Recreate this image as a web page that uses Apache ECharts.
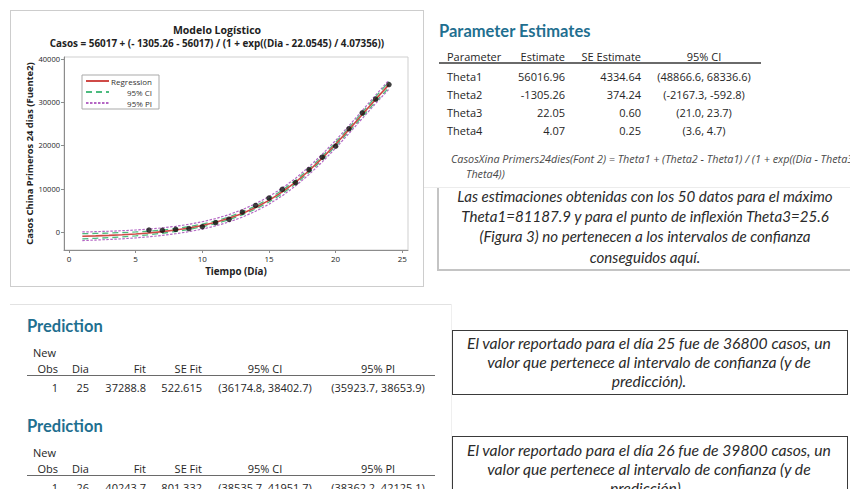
<!DOCTYPE html>
<html>
<head>
<meta charset="utf-8">
<script src="https://cdn.jsdelivr.net/npm/echarts@6/dist/echarts.min.js"></script>
<style>
  html, body { margin: 0; padding: 0; width: 850px; height: 489px; overflow: hidden; background: #fff; }
  #chart { position: absolute; left: 0; top: 0; width: 850px; height: 489px; }
  .t { position: absolute; white-space: nowrap; font-family: "Open Sans", sans-serif; line-height: 1; color: #2a2a2a; }
  .tbl { font-size: 11px; color: #262626; }
  .head { font-family: "Lato", sans-serif; font-size: 16.5px; font-weight: bold; color: #1f6f90; }
  .formula { font-size: 10.8px; font-style: italic; color: #4a4a4a; }
  .note { font-family: "Lato", sans-serif; font-style: italic; font-weight: 400; color: #2a2a2a; }
  .n1 { font-size: 15.1px; }
  .n2 { font-size: 15.7px; }
  .rule { position: absolute; }
</style>
</head>
<body>
<div id="chart"></div>
<div id="panels"></div>
<script>
// ---- Logistic fit: days, fitted cases and bands ----
const days = [1, 2, 3, 4, 5, 6, 7, 8, 9, 10, 11, 12, 13, 14, 15, 16, 17, 18, 19, 20, 21, 22, 23, 24];
const fitCases = [-981, -891, -777, -632, -447, -213, 84, 458, 929, 1521, 2258, 3172, 4296, 5667, 7315, 9269, 11553, 14162, 17088, 20280, 23668, 27161, 30666, 34073];
const ciLower = [-1578, -1456, -1310, -1133, -905, -629, -289, 117, 609, 1212, 1949, 2852, 3955, 5305, 6931, 8864, 11137, 13746, 16672, 19864, 23231, 26682, 30101, 33370];
const ciUpper = [-384, -326, -244, -131, 11, 203, 457, 799, 1249, 1830, 2567, 3492, 4637, 6029, 7699, 9674, 11969, 14578, 17504, 20696, 24105, 27640, 31231, 34776];
const piLower = [-1970, -1861, -1729, -1566, -1359, -1104, -788, -401, 78, 674, 1411, 2321, 3437, 4799, 6438, 8383, 10662, 13271, 16197, 19389, 22767, 26238, 29696, 33016];
const piUpper = [8, 79, 175, 302, 465, 678, 956, 1317, 1780, 2368, 3105, 4023, 5155, 6535, 8192, 10155, 12444, 15053, 17979, 21171, 24569, 28084, 31636, 35130];

// ---- Observed cumulative cases ----
const obsDays = [6, 7, 8, 9, 10, 11, 12, 13, 14, 15, 16, 17, 18, 19, 20, 21, 22, 23, 24];
const obsCases = [460, 400, 620, 800, 1230, 2150, 2950, 4600, 6150, 7850, 9850, 11400, 14400, 17300, 19850, 23850, 27540, 30700, 34080];

// ---- Axis ticks ----
const xTicks = [0, 5, 10, 15, 20, 25];
const yTicks = [0, 10000, 20000, 30000, 40000];

// ---- Parameter estimates table ----
const paramHeader = ['Parameter', 'Estimate', 'SE Estimate', '95% CI'];
const paramNames = ['Theta1', 'Theta2', 'Theta3', 'Theta4'];
const paramEstimates = ['56016.96', '-1305.26', '22.05', '4.07'];
const paramSE = ['4334.64', '374.24', '0.60', '0.25'];
const paramCI = ['(48866.6, 68336.6)', '(-2167.3, -592.8)', '(21.0, 23.7)', '(3.6, 4.7)'];
const modelText = ['CasosXina Primers24dies(Font 2) = Theta1 + (Theta2 - Theta1) / (1 + exp((Dia - Theta3) /', 'Theta4))'];

// ---- Prediction tables ----
const predHeader = ['Obs', 'Dia', 'Fit', 'SE Fit', '95% CI', '95% PI'];
const predObs = ['1', '1'];
const predDia = ['25', '26'];
const predFit = ['37288.8', '40243.7'];
const predSE = ['522.615', '801.332'];
const predCI = ['(36174.8, 38402.7)', '(38535.7, 41951.7)'];
const predPI = ['(35923.7, 38653.9)', '(38362.2, 42125.1)'];

// ---- Notes ----
const noteMain = ['Las estimaciones obtenidas con los 50 datos para el máximo', 'Theta1=81187.9 y para el punto de inflexión Theta3=25.6', '(Figura 3) no pertenecen a los intervalos de confianza', 'conseguidos aquí.'];
const note25 = ['El valor reportado para el día 25 fue de 36800 casos, un', 'valor que pertenece al intervalo de confianza (y de', 'predicción).'];
const note26 = ['El valor reportado para el día 26 fue de 39800 casos, un', 'valor que pertenece al intervalo de confianza (y de', 'predicción)..'];

const pairs = (xs, ys) => xs.map((x, i) => [x, ys[i]]);

const chart = echarts.init(document.getElementById('chart'), null, { renderer: 'svg' });
const baseFont = '"Open Sans", sans-serif';
const red = '#cf4a47', green = '#4cbb7f', purple = '#b466c4';

chart.setOption({
  animation: false,
  textStyle: { fontFamily: baseFont },
  title: [
    { text: 'Modelo Logístico', left: 217, top: 24, padding: 0, textAlign: 'center',
      textStyle: { fontSize: 10.5, fontWeight: 'bold', color: '#222', fontFamily: baseFont } },
    { text: 'Casos = 56017 + (- 1305.26 - 56017) / (1 + exp((Dia - 22.0545) / 4.07356))', left: 217, top: 37.5, padding: 0, textAlign: 'center',
      textStyle: { fontSize: 9.9, fontWeight: 'bold', color: '#222', fontFamily: baseFont } }
  ],
  legend: {
    data: ['Regression', '95% CI', '95% PI'],
    left: 82, top: 75, orient: 'vertical',
    itemWidth: 23, itemHeight: 8, itemGap: 3,
    backgroundColor: '#fff', borderColor: '#a9a9a9', borderWidth: 1, borderRadius: 0,
    padding: [2, 7, 2, 3],
    itemStyle: { opacity: 0 },
    formatter: '{a|{name}}',
    textStyle: { fontSize: 8, color: '#333', fontFamily: baseFont,
      rich: { a: { width: 38, align: 'right', fontSize: 8, color: '#333', fontFamily: baseFont } } }
  },
  grid: { left: 64, top: 57, width: 344, height: 193, show: true, borderColor: '#cfcfcf', borderWidth: 1 },
  xAxis: {
    type: 'value', min: -0.375, max: 25.43,
    axisLine: { show: true, onZero: false, lineStyle: { color: '#8c8c8c', width: 1 } },
    axisTick: { show: true, customValues: xTicks, length: 3, lineStyle: { color: '#8c8c8c' } },
    axisLabel: { customValues: xTicks, fontSize: 8, color: '#222', margin: 4 },
    splitLine: { show: false },
    name: 'Tiempo (Día)', nameLocation: 'middle', nameGap: 16,
    nameTextStyle: { fontSize: 9.8, fontWeight: 'bold', color: '#222' }
  },
  yAxis: {
    type: 'value', min: -4160, max: 40460,
    axisLine: { show: true, onZero: false, lineStyle: { color: '#8c8c8c', width: 1 } },
    axisTick: { show: true, customValues: yTicks, length: 3, lineStyle: { color: '#8c8c8c' } },
    axisLabel: { customValues: yTicks, fontSize: 7.5, color: '#1e1e1e', margin: 4, formatter: v => String(v) },
    splitLine: { show: false },
    name: 'Casos China Primeros 24 dias (Fuente2)', nameLocation: 'middle', nameGap: 30,
    nameTextStyle: { fontSize: 9.4, fontWeight: 'bold', color: '#222' }
  },
  series: [
    { name: '95% PI', type: 'line', symbol: 'none', data: pairs(days, piUpper),
      lineStyle: { color: purple, width: 1.2, type: [2.5, 1.5] }, itemStyle: { color: purple } },
    { name: '95% PI', type: 'line', symbol: 'none', data: pairs(days, piLower),
      lineStyle: { color: purple, width: 1.2, type: [2.5, 1.5] }, itemStyle: { color: purple } },
    { name: '95% CI', type: 'line', symbol: 'none', data: pairs(days, ciUpper),
      lineStyle: { color: green, width: 1.3, type: [6, 4] }, itemStyle: { color: green } },
    { name: '95% CI', type: 'line', symbol: 'none', data: pairs(days, ciLower),
      lineStyle: { color: green, width: 1.3, type: [6, 4] }, itemStyle: { color: green } },
    { name: 'Regression', type: 'line', symbol: 'none', data: pairs(days, fitCases),
      lineStyle: { color: red, width: 1.6 }, itemStyle: { color: red } },
    { name: 'Observed', type: 'scatter', symbol: 'circle', symbolSize: 5.5, data: pairs(obsDays, obsCases),
      itemStyle: { color: '#111' }, z: 5 }
  ]
});

// ---- Side panels: tables and notes ----
const panels = document.getElementById('panels');
function put(text, x, y, align, cls) {
  const el = document.createElement('div');
  el.className = 't ' + cls;
  el.textContent = text;
  el.style.left = x + 'px';
  el.style.top = y + 'px';
  const tx = align === 'right' ? '-100%' : align === 'center' ? '-50%' : '0';
  el.style.transform = 'translate(' + tx + ', -50%)';
  panels.appendChild(el);
  return el;
}
function rule(x, y, w, h, color) {
  const el = document.createElement('div');
  el.className = 'rule';
  Object.assign(el.style, { left: x + 'px', top: y + 'px', width: w + 'px', height: h + 'px', background: color });
  panels.appendChild(el);
}
function box(x, y, w, h, border) {
  const el = document.createElement('div');
  el.className = 'rule';
  Object.assign(el.style, { left: x + 'px', top: y + 'px', width: w + 'px', height: h + 'px', border: border, boxSizing: 'border-box' });
  panels.appendChild(el);
}

// chart frame
box(10, 10, 414, 277, '1px solid #cdcdcd');

// parameter estimates
put('Parameter Estimates', 439, 31, 'left', 'head');
put(paramHeader[0], 447, 56, 'left', 'tbl');
put(paramHeader[1], 565, 56, 'right', 'tbl');
put(paramHeader[2], 641, 56, 'right', 'tbl');
put(paramHeader[3], 704, 56, 'center', 'tbl');
rule(439, 62, 322, 1.5, '#6a6a6a');
paramNames.forEach((n, i) => {
  const y = 75.7 + i * 18.1;
  put(n, 447, y, 'left', 'tbl');
  put(paramEstimates[i], 565, y, 'right', 'tbl');
  put(paramSE[i], 641, y, 'right', 'tbl');
  put(paramCI[i], 704, y, 'center', 'tbl');
});
put(modelText[0], 451, 159, 'left', 'formula');
put(modelText[1], 466, 174, 'left', 'formula');
rule(424, 187, 426, 1, '#ececec');

// note on the 50-point fit
rule(437, 188, 1.5, 82, '#c4c4c4');
rule(437, 269, 413, 1.5, '#c4c4c4');
noteMain.forEach((s, i) => put(s, 645, 197 + i * 20.2, 'center', 'note n1'));

// prediction tables
rule(10, 304, 441, 1, '#e2e2e2');
rule(451, 304, 1, 185, '#efefef');
function predictionTable(top, k) {
  put('Prediction', 27, top, 'left', 'head');
  put('New', 33, top + 26, 'left', 'tbl');
  const hy = top + 42;
  put(predHeader[0], 58, hy, 'right', 'tbl');
  put(predHeader[1], 72, hy, 'left', 'tbl');
  put(predHeader[2], 146, hy, 'right', 'tbl');
  put(predHeader[3], 202, hy, 'right', 'tbl');
  put(predHeader[4], 265, hy, 'center', 'tbl');
  put(predHeader[5], 378, hy, 'center', 'tbl');
  rule(27, hy + 6.5, 408, 1.5, '#6a6a6a');
  const ry = hy + 19;
  put(predObs[k], 58, ry, 'right', 'tbl');
  put(predDia[k], 89, ry, 'right', 'tbl');
  put(predFit[k], 146, ry, 'right', 'tbl');
  put(predSE[k], 202, ry, 'right', 'tbl');
  put(predCI[k], 265, ry, 'center', 'tbl');
  put(predPI[k], 378, ry, 'center', 'tbl');
}
predictionTable(326, 0);
predictionTable(426, 1);

// notes on reported values
box(452, 330, 396, 65, '1px solid #3a3a3a');
note25.forEach((s, i) => put(s, 649, 344 + i * 19, 'center', 'note n2'));
box(452, 436, 396, 70, '1px solid #3a3a3a');
note26.forEach((s, i) => put(s, 649, 451 + i * 19, 'center', 'note n2'));
</script>
</body>
</html>
